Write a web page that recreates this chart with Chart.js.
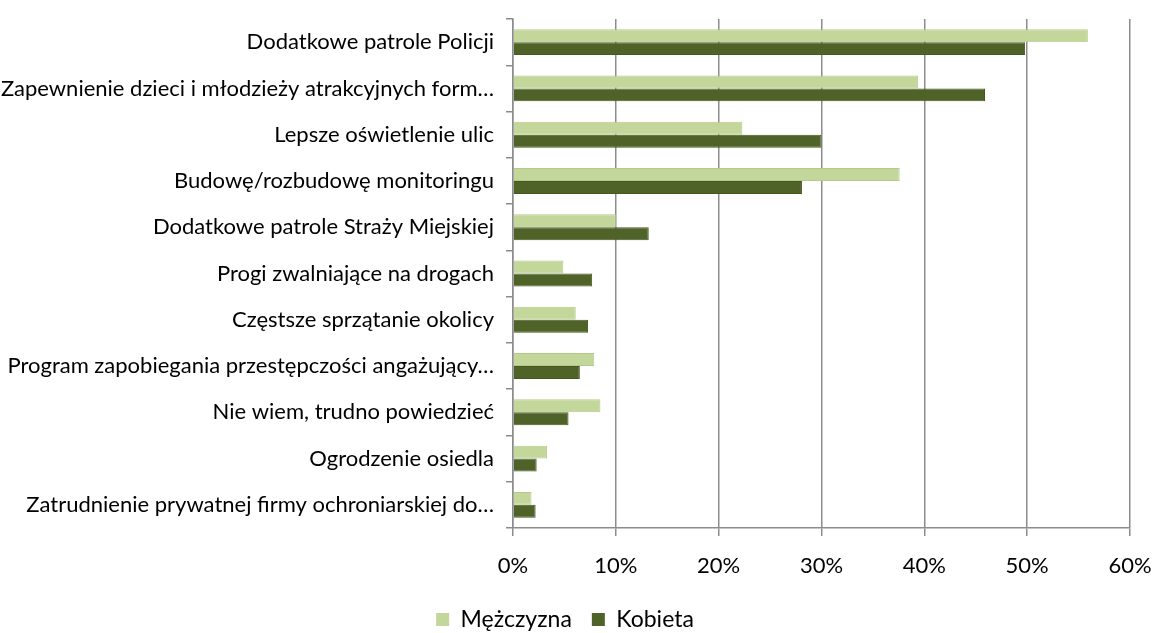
<!DOCTYPE html>
<html>
<head>
<meta charset="utf-8">
<script src="https://cdn.jsdelivr.net/npm/chart.js@4.4.1/dist/chart.umd.min.js"></script>
<style>
  html, body { margin: 0; padding: 0; background: #fff; }
  #wrap { width: 1156px; height: 633px; }
</style>
</head>
<body>
<div id="wrap"><canvas id="chart" width="1156" height="633"></canvas></div>
<script>
// dane (%)
const categories = [
  'Dodatkowe patrole Policji',
  'Zapewnienie dzieci i młodzieży atrakcyjnych form…',
  'Lepsze oświetlenie ulic',
  'Budowę/rozbudowę monitoringu',
  'Dodatkowe patrole Straży Miejskiej',
  'Progi zwalniające na drogach',
  'Częstsze sprzątanie okolicy',
  'Program zapobiegania przestępczości angażujący…',
  'Nie wiem, trudno powiedzieć',
  'Ogrodzenie osiedla',
  'Zatrudnienie prywatnej firmy ochroniarskiej do…'
];
const mezczyzna = [55.9, 39.4, 22.3, 37.6, 10.0, 4.9, 6.1, 7.9, 8.5, 3.3, 1.8];
const kobieta = [49.8, 45.9, 30.0, 28.1, 13.2, 7.7, 7.3, 6.5, 5.4, 2.3, 2.2];
const xTicks = [0, 10, 20, 30, 40, 50, 60];

const font = 'Lato';
const gridColor = '#8c8c8c';

// legenda niżej: skracamy wysokość jej pudełka
const legendHeight = {
  id: 'legendHeight',
  beforeUpdate(chart) {
    const lg = chart.legend;
    if (lg && !lg._patched) {
      const fit = lg.fit;
      lg.fit = function() {
        fit.call(this);
        this.height = 45;
      };
      lg._patched = true;
    }
  }
};

new Chart(document.getElementById('chart'), {
  type: 'bar',
  data: {
    labels: categories,
    datasets: [
      {
        label: 'Mężczyzna',
        data: mezczyzna,
        backgroundColor: '#c4d79b',
        borderColor: '#b5c98b',
        borderWidth: 1,
        barPercentage: 1,
        categoryPercentage: 0.56
      },
      {
        label: 'Kobieta',
        data: kobieta,
        backgroundColor: '#4f6228',
        borderColor: '#46581f',
        borderWidth: 1,
        barPercentage: 1,
        categoryPercentage: 0.56
      }
    ]
  },
  options: {
    indexAxis: 'y',
    responsive: false,
    animation: false,
    devicePixelRatio: 1,
    layout: { padding: { top: 19, right: 26, left: 0, bottom: 0 } },
    scales: {
      x: {
        min: 0,
        max: 60,
        afterBuildTicks: function(scale) {
          scale.ticks = xTicks.map(v => ({ value: v }));
        },
        afterFit: function(scale) {
          scale.height = 60;
          scale.paddingLeft = 0;
          scale.paddingRight = 0;
        },
        grid: { color: gridColor, lineWidth: 1.5, tickLength: 8 },
        border: { color: gridColor, width: 1.5 },
        ticks: {
          padding: 17,
          color: '#000',
          font: { family: font, size: 22 },
          callback: function(value) { return value + '%'; }
        }
      },
      y: {
        afterFit: function(scale) {
          scale.width = 513;
          scale.paddingTop = 0;
          scale.paddingBottom = 0;
        },
        grid: { drawOnChartArea: false, color: gridColor, lineWidth: 1.5, tickLength: 7, offset: true },
        border: { color: gridColor, width: 1.5 },
        ticks: {
          padding: 12,
          color: '#000',
          autoSkip: false,
          font: { family: font, size: 22 }
        }
      }
    },
    plugins: {
      legend: {
        position: 'bottom',
        labels: {
          boxWidth: 13,
          boxHeight: 13,
          padding: 20,
          color: '#000',
          font: { family: font, size: 23 },
          generateLabels: function(chart) {
            return chart.data.datasets.map((ds, i) => ({
              text: ds.label,
              fillStyle: ds.backgroundColor,
              strokeStyle: ds.backgroundColor,
              lineWidth: 0,
              datasetIndex: i,
              fontColor: '#000'
            }));
          }
        }
      },
      tooltip: {
        callbacks: {
          label: function(context) {
            return context.dataset.label + ': ' + context.raw.toFixed(1) + '%';
          }
        }
      }
    }
  },
  plugins: [legendHeight]
});
</script>
</body>
</html>
